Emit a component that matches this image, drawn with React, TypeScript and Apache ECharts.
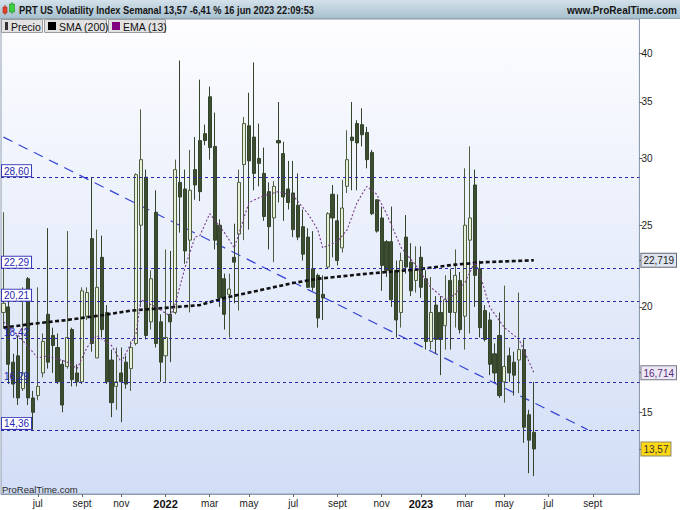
import { useEffect, useRef } from 'react';
import * as echarts from 'echarts';

// ---- data (weekly candles, 17 may 2021 .. 12 jun 2023) ----
const opens = [
  19.7, 20.0, 17.2, 17.5, 16.0, 21.6, 15.6, 15.7, 16.7, 19.6,
  18.5, 17.9, 17.1, 17.0, 18.8, 16.7, 16.3, 19.5, 24.1, 17.4,
  22.9, 19.7, 17.3, 16.1, 16.7, 17.2, 16.9, 18.1, 25.0, 28.5,
  19.2, 25.9, 19.2, 17.5, 19.6, 19.7, 28.1, 27.6, 24.0, 29.1,
  31.5, 32.1, 35.5, 31.0, 25.0, 21.6, 20.7, 22.9, 24.4, 29.5,
  32.8, 31.8, 30.0, 28.8, 27.4, 25.5, 31.5, 30.4, 27.6, 27.3,
  26.4, 24.9, 24.2, 22.2, 21.8, 20.7, 22.3, 27.2, 25.3, 23.5,
  27.8, 31.8, 33.0, 32.9, 32.2, 30.5, 26.8, 25.5, 23.9, 23.9,
  22.1, 19.7, 24.2, 22.6, 21.5, 22.9, 21.6, 18.2, 20.1, 19.7,
  19.0, 21.5, 19.7, 21.5, 19.5, 24.0, 27.9, 22.2, 19.8, 19.3,
  17.6, 18.5, 16.3, 17.5, 17.2, 17.3, 17.8, 14.9, 14.2,
];
const closes = [
  20.2, 17.1, 16.2, 15.6, 16.7, 15.6, 15.0, 16.1, 18.2, 17.2,
  18.0, 16.3, 15.3, 18.4, 16.4, 16.3, 20.9, 20.8, 18.1, 21.1,
  18.8, 16.3, 15.4, 16.3, 16.3, 16.2, 17.9, 28.7, 29.9, 18.5,
  21.6, 18.1, 17.2, 18.4, 19.2, 29.1, 27.0, 23.3, 27.5, 27.9,
  27.4, 31.5, 30.9, 24.0, 20.5, 19.6, 21.0, 22.6, 28.1, 33.0,
  29.8, 28.8, 29.6, 25.6, 24.9, 27.8, 31.3, 27.0, 26.6, 24.7,
  24.2, 23.1, 21.1, 21.1, 19.4, 20.5, 25.8, 25.5, 22.7, 26.2,
  29.9, 31.5, 31.3, 32.0, 29.9, 25.8, 24.6, 22.4, 22.1, 20.4,
  19.3, 22.7, 22.3, 20.9, 22.1, 21.1, 18.2, 19.7, 18.3, 18.3,
  20.4, 19.7, 21.8, 18.8, 25.0, 25.5, 21.8, 18.9, 18.3, 17.1,
  16.7, 15.7, 17.0, 16.7, 16.6, 17.8, 14.4, 13.9, 13.57,
];
const lows = [
  18.9, 16.2, 15.6, 15.3, 15.9, 15.3, 14.3, 15.5, 16.5, 16.9,
  16.7, 16.2, 15.0, 16.9, 16.1, 16.1, 16.2, 19.3, 17.7, 17.4,
  18.4, 16.2, 14.8, 15.1, 14.6, 16.0, 15.9, 18.0, 20.0, 18.3,
  18.8, 17.9, 16.3, 16.3, 17.2, 19.6, 24.5, 22.5, 19.7, 26.8,
  26.7, 31.1, 29.9, 23.4, 20.0, 18.8, 18.4, 20.2, 19.8, 24.0,
  24.7, 27.5, 27.8, 25.3, 23.4, 22.6, 26.6, 25.3, 26.1, 24.2,
  24.0, 22.7, 21.1, 20.9, 18.9, 19.3, 22.2, 22.9, 22.4, 23.2,
  27.3, 27.5, 27.5, 31.0, 29.2, 25.7, 24.5, 20.9, 21.7, 20.0,
  18.4, 18.9, 21.9, 20.6, 20.8, 20.5, 17.8, 17.8, 17.6, 16.6,
  17.8, 17.8, 18.9, 18.6, 17.8, 18.6, 20.0, 18.4, 18.2, 16.6,
  16.3, 15.6, 15.4, 16.3, 15.7, 15.8, 13.8, 12.7, 12.6,
];
const highs = [
  25.9, 20.3, 17.6, 18.5, 21.1, 21.7, 15.9, 21.1, 18.6, 24.8,
  18.9, 18.6, 17.3, 24.6, 18.9, 17.1, 21.1, 21.1, 28.5, 24.7,
  24.3, 20.1, 17.8, 17.9, 17.9, 17.5, 18.2, 28.8, 34.3, 29.1,
  22.1, 27.5, 19.6, 23.4, 23.3, 29.9, 39.2, 29.1, 30.7, 31.8,
  37.2, 32.9, 36.5, 34.0, 25.4, 21.9, 21.9, 25.1, 29.1, 33.6,
  35.9, 39.0, 33.0, 30.9, 28.1, 28.2, 35.0, 31.4, 29.8, 29.8,
  28.8, 26.1, 24.8, 24.6, 21.9, 21.8, 25.9, 27.9, 27.2, 28.3,
  32.4, 35.0, 33.3, 34.4, 32.7, 30.7, 26.8, 26.3, 24.0, 26.3,
  22.7, 23.2, 25.7, 23.8, 23.6, 23.6, 22.1, 21.7, 20.6, 20.6,
  21.8, 22.2, 23.4, 22.0, 29.2, 31.0, 29.1, 22.7, 20.1, 19.7,
  18.1, 19.7, 21.2, 17.9, 17.7, 20.8, 18.3, 15.1, 16.3,
];

// SMA(200) read at some candles (index, value)
const smaIdx = [0, 6, 13, 20, 26, 33, 40, 45, 59, 64, 74, 84, 92, 98, 108];
const smaVal = [18.9, 19.1, 19.3, 19.55, 19.8, 19.95, 20.1, 20.5, 21.35, 21.6, 21.9, 22.15, 22.45, 22.6, 22.719];

// EMA(13) read at some candles (index, value)
const emaIdx = [0, 3, 7, 9, 13, 15, 17, 19, 22, 24, 27, 28, 31, 34, 35, 37, 39, 40, 42, 45,
  47, 48, 50, 53, 56, 59, 62, 64, 65, 68, 70, 72, 74, 76, 78, 81, 84, 87, 90, 92,
  94, 96, 97, 99, 102, 105, 108];
const emaVal = [19.2, 18.5, 17.4, 17.5, 17.2, 16.9, 17.9, 18.5, 18.0, 17.2, 18.6, 20.4, 20.0, 19.5, 20.2, 22.3, 24.2, 24.3, 25.8, 24.5,
  23.5, 24.5, 26.6, 27.1, 27.4, 27.1, 25.8, 24.7, 23.5, 23.9, 24.7, 26.6, 27.8, 27.2, 25.8, 23.5, 22.4, 21.1, 20.4, 20.7,
  21.4, 22.6, 21.9, 20.0, 18.9, 18.3, 16.714];

// descending trend line (index, value)
const trendIdx = [0, 119];
const trendVal = [31.8, 14.3];

// horizontal levels
const levels = [28.60, 22.29, 20.21, 18.42, 16.29, 14.36];
const levelBoxed = [true, true, true, false, false, true];

// y axis
const yTicks = [15, 20, 25, 30, 35, 40];
const yMin = 12.0;
const yMax = 43.9;
const lastClose = 13.57;
const smaLast = 22.719;
const emaLast = 16.714;

// x axis: weekly categories
const firstWeek = Date.UTC(2021, 4, 17);
const weekCount = 130;
const monthNames = ['ene', 'feb', 'mar', 'abr', 'may', 'jun', 'jul', 'ago', 'sept', 'oct', 'nov', 'dic'];

const FONT = 'Arial, "Liberation Sans", Helvetica, sans-serif';

const categories: string[] = [];
const weekLabels: string[] = [];
for (let i = 0; i < weekCount; i++) {
  const d = new Date(firstWeek + i * 7 * 86400000);
  categories.push(d.toISOString().slice(0, 10));
  const m = d.getUTCMonth();
  let lab = '';
  if (d.getUTCDate() <= 7 && m % 2 === 0 && i < 126) {
    lab = m === 0 ? '{y|' + d.getUTCFullYear() + '}' : monthNames[m];
  }
  weekLabels.push(lab);
}

const L = (v: number) => Math.log(v);
const fmt = (v: number, d: number) => v.toFixed(d).replace('.', ',');

function sparse(idx: number[], val: number[]) {
  const arr: (number | null)[] = new Array(weekCount).fill(null);
  idx.forEach((k, j) => { arr[k] = L(val[j]); });
  return arr;
}

export default function App() {
  const ref = useRef<HTMLDivElement>(null);
  useEffect(() => {
    if (!ref.current) return;
    const chart = echarts.init(ref.current, undefined, { renderer: 'svg' });

    const candleData = opens.map((o, i) => [L(o), L(closes[i]), L(lows[i]), L(highs[i])]);
    const yCustom = [lastClose, ...yTicks, smaLast, emaLast].map(L);

    const boxLabel = (v: number, boxed: boolean) => ({
      show: true,
      position: 'insideStartTop',
      distance: [1, 1],
      formatter: fmt(v, 2),
      color: '#2626b4',
      fontSize: 10,
      fontFamily: FONT,
      lineHeight: 10,
      padding: [1, 2, 0, 2],
      backgroundColor: boxed ? '#ffffff' : 'transparent',
      borderColor: boxed ? '#3a3ab8' : 'transparent',
      borderWidth: boxed ? 1 : 0,
    });

    const option: any = {
      animation: false,
      backgroundColor: '#ffffff',
      grid: {
        left: 1, right: 39, top: 19, bottom: 16,
        show: true,
        borderColor: '#8e9cb0',
        borderWidth: 1,
        backgroundColor: new echarts.graphic.LinearGradient(0, 0, 0, 1, [
          { offset: 0, color: '#fdfdff' },
          { offset: 1, color: '#d2def6' },
        ]),
      },
      xAxis: {
        type: 'category',
        data: categories,
        boundaryGap: true,
        axisLine: { show: true, lineStyle: { color: '#8e9cb0' } },
        axisTick: {
          show: true,
          length: 3,
          alignWithLabel: true,
          interval: (i: number) => weekLabels[i] !== '',
          lineStyle: { color: '#666' },
        },
        axisLabel: {
          interval: (i: number) => weekLabels[i] !== '',
          formatter: (_v: string, i: number) => weekLabels[i],
          color: '#222',
          fontSize: 10,
          fontFamily: FONT,
          margin: 4,
          rich: { y: { fontWeight: 'bold', fontSize: 11, color: '#111', fontFamily: FONT } },
        },
        splitLine: { show: false },
      },
      yAxis: {
        type: 'value',
        position: 'right',
        min: L(yMin),
        max: L(yMax),
        scale: true,
        splitLine: { show: false },
        axisLine: { show: true, lineStyle: { color: '#8e9cb0' } },
        axisTick: { show: true, length: 3, customValues: yCustom, lineStyle: { color: '#555' } },
        axisLabel: {
          customValues: yCustom,
          margin: 2,
          color: '#222',
          fontSize: 10,
          fontFamily: FONT,
          formatter: (v: number) => {
            const x = Math.exp(v);
            if (Math.abs(x - lastClose) < 0.005) return '{last|' + fmt(lastClose, 2) + '}';
            if (Math.abs(x - smaLast) < 0.0005) return '{sma|' + fmt(smaLast, 3) + '}';
            if (Math.abs(x - emaLast) < 0.0005) return '{ema|' + fmt(emaLast, 3) + '}';
            return String(Math.round(x));
          },
          rich: {
            last: { backgroundColor: '#ffd814', borderColor: '#8a8a6a', borderWidth: 1, padding: [2, 2, 1, 2], color: '#333', fontSize: 10, fontFamily: FONT },
            sma: { backgroundColor: '#dfe5ee', borderColor: '#667', borderWidth: 1, padding: [2, 2, 1, 2], color: '#222', fontSize: 10, fontFamily: FONT },
            ema: { backgroundColor: '#ebe7f3', borderColor: '#778', borderWidth: 1, padding: [2, 2, 1, 2], color: '#5b2a80', fontSize: 10, fontFamily: FONT },
          },
        },
      },
      series: [
        {
          type: 'line',
          name: 'levels',
          data: sparse(trendIdx, trendVal),
          connectNulls: true,
          showSymbol: false,
          symbol: 'none',
          z: 1,
          lineStyle: { color: '#3644d2', width: 1.2, type: [10, 7] },
          markLine: {
            silent: true,
            symbol: ['none', 'none'],
            lineStyle: { color: '#2828a6', width: 1, type: [3, 3] },
            data: levels.map((v, i) => ({ yAxis: L(v), label: boxLabel(v, levelBoxed[i]) })),
          },
        },
        {
          type: 'candlestick',
          name: 'Precio',
          data: candleData,
          barWidth: 3.6,
          z: 3,
          itemStyle: {
            color: '#e9f0da',
            color0: '#3d4d32',
            borderColor: '#4e5e3e',
            borderColor0: '#34442a',
            borderWidth: 1,
          },
        },
        {
          type: 'line',
          name: 'SMA (200)',
          data: sparse(smaIdx, smaVal),
          connectNulls: true,
          showSymbol: false,
          symbol: 'none',
          z: 4,
          lineStyle: { color: '#111', width: 2.6, type: [4, 2.5] },
        },
        {
          type: 'line',
          name: 'EMA (13)',
          data: sparse(emaIdx, emaVal),
          connectNulls: true,
          showSymbol: false,
          symbol: 'none',
          z: 4,
          lineStyle: { color: '#7a3b8c', width: 1.1, type: [2, 2] },
        },
      ],
      graphic: [
        {
          type: 'rect', z: 100, shape: { x: 0, y: 0, width: 680, height: 18 },
          style: {
            fill: new echarts.graphic.LinearGradient(0, 0, 0, 1, [
              { offset: 0, color: '#d3e1ea' },
              { offset: 1, color: '#a8c1cf' },
            ]),
          },
        },
        { type: 'line', z: 101, shape: { x1: 0, y1: 18.5, x2: 680, y2: 18.5 }, style: { stroke: '#8fa6b4', lineWidth: 1 } },
        // icon
        { type: 'line', z: 101, shape: { x1: 5, y1: 5, x2: 5, y2: 15 }, style: { stroke: '#c03020', lineWidth: 1 } },
        { type: 'rect', z: 102, shape: { x: 3, y: 7, width: 4, height: 6 }, style: { fill: '#e8402a', stroke: '#a02818', lineWidth: 0.6 } },
        { type: 'line', z: 101, shape: { x1: 12, y1: 2, x2: 12, y2: 14 }, style: { stroke: '#2a9a2a', lineWidth: 1 } },
        { type: 'rect', z: 102, shape: { x: 9.5, y: 4, width: 5, height: 8 }, style: { fill: '#3cd03c', stroke: '#208a20', lineWidth: 0.6 } },
        {
          type: 'text', z: 102, x: 19, y: 10, scaleX: 0.93,
          style: {
            text: 'PRT US Volatility Index Semanal 13,57 -6,41 % 16 jun 2023 22:09:53',
            fill: '#151515', font: 'bold 10px ' + FONT, verticalAlign: 'middle',
          },
        },
        {
          type: 'text', z: 102, x: 677, y: 10,
          style: { text: 'www.ProRealTime.com', fill: '#151515', font: 'bold 10px ' + FONT, align: 'right', verticalAlign: 'middle' },
        },
        // legend boxes
        { type: 'rect', z: 100, shape: { x: 1.5, y: 19.5, width: 41, height: 13 }, style: { fill: '#e2e2e2', stroke: '#9c9c9c', lineWidth: 1 } },
        { type: 'rect', z: 100, shape: { x: 44.5, y: 19.5, width: 62, height: 13 }, style: { fill: '#e2e2e2', stroke: '#9c9c9c', lineWidth: 1 } },
        { type: 'rect', z: 100, shape: { x: 108.5, y: 19.5, width: 57, height: 13 }, style: { fill: '#e2e2e2', stroke: '#9c9c9c', lineWidth: 1 } },
        { type: 'rect', z: 101, shape: { x: 5, y: 22, width: 3, height: 8 }, style: { fill: '#333' } },
        { type: 'rect', z: 101, shape: { x: 48, y: 22, width: 8, height: 8 }, style: { fill: '#000' } },
        { type: 'rect', z: 101, shape: { x: 112, y: 22, width: 8, height: 8 }, style: { fill: '#800080' } },
        { type: 'text', z: 101, x: 11, y: 26.5, style: { text: 'Precio', fill: '#111', font: '10.5px ' + FONT, verticalAlign: 'middle' } },
        { type: 'text', z: 101, x: 59, y: 26.5, style: { text: 'SMA (200)', fill: '#111', font: '10.5px ' + FONT, verticalAlign: 'middle' } },
        { type: 'text', z: 101, x: 123, y: 26.5, style: { text: 'EMA (13)', fill: '#111', font: '10.5px ' + FONT, verticalAlign: 'middle' } },
        // bottom-left watermark
        { type: 'text', z: 101, x: 2, y: 489, style: { text: 'ProRealTime.com', fill: '#2a2a2a', font: '9.5px ' + FONT, verticalAlign: 'middle' } },
      ],
    };

    chart.setOption(option);
    return () => chart.dispose();
  }, []);

  return (
    <div
      ref={ref}
      style={{ position: 'fixed', left: 0, top: 0, width: 680, height: 510, background: '#fff' }}
    />
  );
}
